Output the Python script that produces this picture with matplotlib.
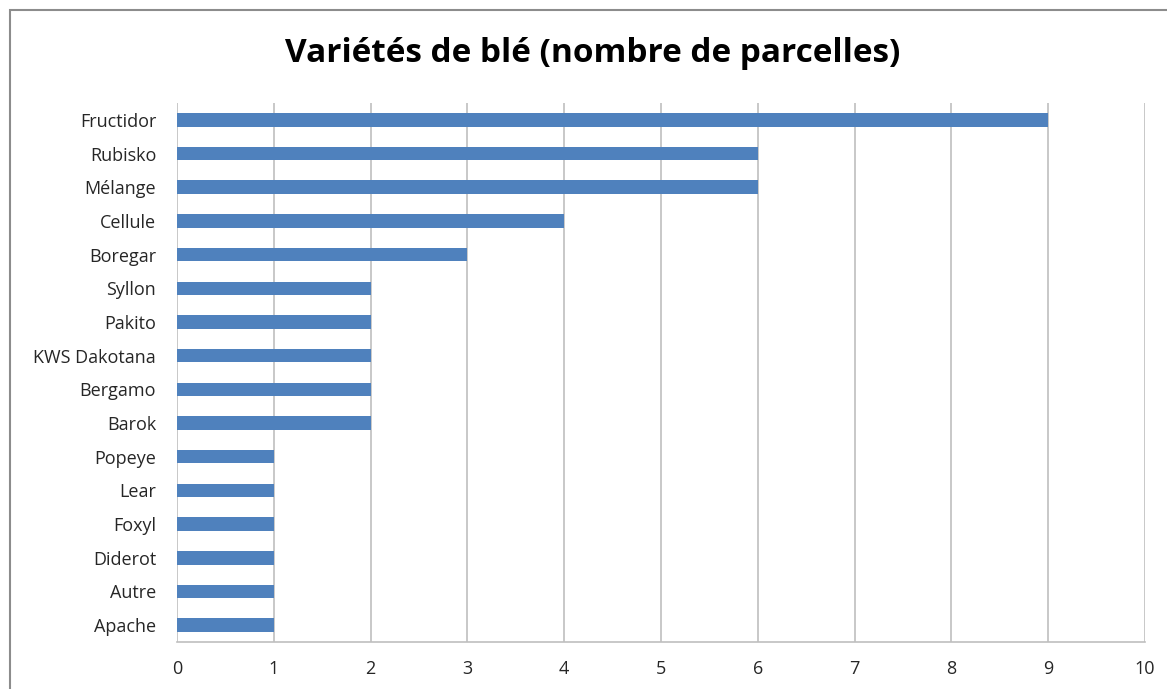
import matplotlib.pyplot as plt
from matplotlib.patches import Rectangle

# Wheat varieties, top to bottom as in the chart
varieties = ["Fructidor", "Rubisko", "Mélange", "Cellule", "Boregar", "Syllon",
             "Pakito", "KWS Dakotana", "Bergamo", "Barok", "Popeye", "Lear",
             "Foxyl", "Diderot", "Autre", "Apache"]
parcelles = [9, 6, 6, 4, 3, 2, 2, 2, 2, 2, 1, 1, 1, 1, 1, 1]
x_ticks = list(range(0, 11))

plt.rcParams['font.family'] = ['Open Sans', 'DejaVu Sans']

fig = plt.figure(figsize=(11.67, 6.89), dpi=100)

# outer chart border (Excel style), right and bottom edges fall off the picture
fig.patches.append(Rectangle((10/1167, -0.1), 1.2, 1.1 - 10/689,
                             transform=fig.transFigure, fill=False,
                             edgecolor="#8c8c8c", linewidth=1.5))

ax = fig.add_axes([177/1167, 47/689, 968/1167, 539/689])

pos = list(range(len(varieties)))[::-1]
ax.barh(pos, parcelles, height=0.4, color="#4f81bd", zorder=3)

ax.set_xlim(0, 10)
ax.set_ylim(-0.5, len(varieties) - 0.5)
ax.set_xticks(x_ticks)
ax.set_yticks(pos)
ax.set_yticklabels(varieties)
ax.tick_params(axis="both", length=0, labelsize=13, colors="#262626")
ax.tick_params(axis="x", pad=13)
ax.tick_params(axis="y", pad=15)

ax.grid(axis="x", color="#bfbfbf", linewidth=1.2, zorder=0)
for side in ["top", "right", "left"]:
    ax.spines[side].set_visible(False)
ax.spines["bottom"].set_color("#bfbfbf")
ax.spines["bottom"].set_linewidth(1.2)

fig.text(0.508, 1 - 53/689, "Variétés de blé (nombre de parcelles)",
         ha="center", va="center", fontsize=24, fontweight="bold", color="black")

fig.savefig("out.png", dpi=100)
